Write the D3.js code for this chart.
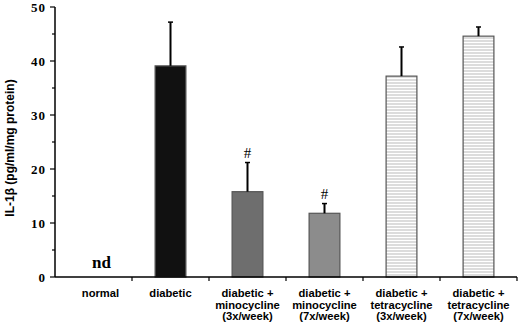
<!DOCTYPE html>
<html lang="en">
<head>
  <meta charset="UTF-8">
  <title>IL-1b bar chart</title>
  <script src="https://d3js.org/d3.v7.min.js"></script>
  <style>
    body { margin: 0; background: #fff; }
    .tick-num { font-family: "Liberation Serif", serif; font-weight: bold; font-size: 13px; letter-spacing: 1px; }
    .cat-label { font-family: "Liberation Sans", Arial, sans-serif; font-weight: bold; font-size: 11.2px; }
    .y-title { font-family: "Liberation Sans", Arial, sans-serif; font-weight: bold; font-size: 12px; }
  </style>
</head>
<body>
  <svg id="chart" width="520" height="325"></svg>
  <script>
    // data
    const categories = ["normal", "diabetic", "mino3", "mino7", "tetra3", "tetra7"];
    const labels = [
      ["normal"],
      ["diabetic"],
      ["diabetic +", "minocycline", "(3x/week)"],
      ["diabetic +", "minocycline", "(7x/week)"],
      ["diabetic +", "tetracycline", "(3x/week)"],
      ["diabetic +", "tetracycline", "(7x/week)"]
    ];
    const means = [null, 39.1, 15.8, 11.8, 37.2, 44.6];
    const errors = [null, 8.1, 5.4, 1.8, 5.4, 1.7];
    const marks = ["nd", "", "#", "#", "", ""];
    const fills = ["none", "#111111", "#6e6e6e", "#8c8c8c", "url(#stripes)", "url(#stripes)"];
    const yTicks = [0, 5, 10, 15, 20, 25, 30, 35, 40, 45, 50];

    const svg = d3.select("#chart");
    const x0 = 55, x1 = 517, yTop = 7, yBottom = 277;

    const x = d3.scaleBand().domain(categories).range([x0, x1]).padding(0);
    const y = d3.scaleLinear().domain([0, 50]).range([yBottom, yTop]);
    const barW = x.bandwidth() * 0.4;

    const defs = svg.append("defs");
    const pat = defs.append("pattern")
      .attr("id", "stripes")
      .attr("patternUnits", "userSpaceOnUse")
      .attr("width", 6).attr("height", 3);
    pat.append("rect").attr("width", 6).attr("height", 3).attr("fill", "#dcdcdc");
    pat.append("rect").attr("width", 6).attr("height", 1).attr("fill", "#ffffff");

    // bars
    const data = categories.map((c, i) => ({c, i, v: means[i], e: errors[i], m: marks[i], f: fills[i]}));
    const withVal = data.filter(d => d.v != null);

    svg.selectAll(".bar").data(withVal).join("rect")
      .attr("class", "bar")
      .attr("x", d => x(d.c) + (x.bandwidth() - barW) / 2)
      .attr("y", d => y(d.v))
      .attr("width", barW)
      .attr("height", d => y(0) - y(d.v))
      .attr("fill", d => d.f)
      .attr("stroke", "#555")
      .attr("stroke-width", 1.2);

    // error bars (upper only)
    const cx = d => x(d.c) + x.bandwidth() / 2;
    svg.selectAll(".err").data(withVal).join("line")
      .attr("x1", cx).attr("x2", cx)
      .attr("y1", d => y(d.v)).attr("y2", d => y(d.v + d.e))
      .attr("stroke", "#000").attr("stroke-width", 2);
    svg.selectAll(".cap").data(withVal).join("line")
      .attr("x1", d => cx(d) - 2.5).attr("x2", d => cx(d) + 2.5)
      .attr("y1", d => y(d.v + d.e)).attr("y2", d => y(d.v + d.e))
      .attr("stroke", "#000").attr("stroke-width", 1.5);

    // # significance marks
    svg.selectAll(".sig").data(withVal.filter(d => d.m)).join("text")
      .attr("x", cx)
      .attr("y", d => y(d.v + d.e) - 5)
      .attr("text-anchor", "middle")
      .attr("font-family", "Liberation Serif, serif")
      .attr("font-size", 15)
      .text(d => d.m);

    // nd marker for the normal group
    svg.selectAll(".nd").data(data.filter(d => d.v == null)).join("text")
      .attr("x", d => cx(d) + 8)
      .attr("y", y(0) - 9)
      .attr("text-anchor", "middle")
      .attr("font-family", "Liberation Serif, serif")
      .attr("font-weight", "bold")
      .attr("font-size", 17)
      .text(d => d.m);

    // y axis
    const yAxis = svg.append("g");
    yAxis.append("line")
      .attr("x1", x0).attr("x2", x0)
      .attr("y1", y(50)).attr("y2", y(0))
      .attr("stroke", "#000").attr("stroke-width", 1.5);
    yAxis.selectAll(".yt").data(yTicks).join("line")
      .attr("x1", d => d % 10 === 0 ? x0 - 5 : x0 - 3).attr("x2", x0)
      .attr("y1", d => y(d)).attr("y2", d => y(d))
      .attr("stroke", "#000").attr("stroke-width", 1.2);
    yAxis.selectAll(".tick-num").data(yTicks.filter(d => d % 10 === 0)).join("text")
      .attr("class", "tick-num")
      .attr("x", x0 - 9)
      .attr("y", d => y(d))
      .attr("dy", "0.35em")
      .attr("text-anchor", "end")
      .text(d => d);

    svg.append("text")
      .attr("class", "y-title")
      .attr("transform", "translate(14,148) rotate(-90)")
      .attr("text-anchor", "middle")
      .text("IL-1β (pg/ml/mg protein)");

    // x axis
    svg.append("line")
      .attr("x1", x0).attr("x2", x1)
      .attr("y1", y(0)).attr("y2", y(0))
      .attr("stroke", "#000").attr("stroke-width", 1.5);
    const bounds = categories.slice(1).map(c => x(c)).concat([x1]);
    svg.selectAll(".xt").data(bounds).join("line")
      .attr("x1", d => d).attr("x2", d => d)
      .attr("y1", y(0)).attr("y2", y(0) + 4)
      .attr("stroke", "#000").attr("stroke-width", 1.2);

    const lab = svg.selectAll(".cat-label").data(data).join("text")
      .attr("class", "cat-label")
      .attr("text-anchor", "middle")
      .attr("y", 297);
    lab.selectAll("tspan").data(d => labels[d.i].map(t => ({t, d}))).join("tspan")
      .attr("x", o => cx(o.d) + (o.d.i === 0 ? 7 : 0))
      .attr("dy", (o, j) => j === 0 ? 0 : 11.5)
      .text(o => o.t);
  </script>
</body>
</html>
